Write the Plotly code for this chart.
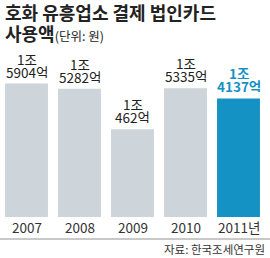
import plotly.graph_objects as go

years = ["2007", "2008", "2009", "2010", "2011년"]
values = [15904, 15282, 10462, 15335, 14137]
label_top = ["1조", "1조", "1조", "1조", "1조"]
label_bottom = ["5904억", "5282억", "462억", "5335억", "4137억"]

GRAY = "#cdd4da"
BLUE = "#1592c4"
colors = [GRAY, GRAY, GRAY, GRAY, BLUE]
FONT = "Noto Sans CJK KR"

x = list(range(len(years)))
fig = go.Figure(go.Bar(x=x, y=values, marker=dict(color=colors, line=dict(width=0)),
                       width=0.81, hoverinfo="skip"))

W, H = 270, 258
T, B = 40, 41
plot_h = H - T - B
def py(p):
    return (H - B - p) / plot_h
def px(p):
    return p / 265

ann = []
for i, (v, a, b) in enumerate(zip(values, label_top, label_bottom)):
    c = BLUE if i == 4 else "#222222"
    ta = f"<b>{a}</b>" if i == 4 else a
    tb = f"<b>{b}</b>" if i == 4 else b
    ann.append(dict(x=i, y=v, xref="x", yref="y", text=tb, showarrow=False, borderpad=0,
                    height=12, yanchor="bottom", yshift=5, font=dict(family=FONT, size=13.5, color=c)))
    ann.append(dict(x=i, y=v, xref="x", yref="y", text=ta, showarrow=False, borderpad=0,
                    height=12, yanchor="bottom", yshift=18, font=dict(family=FONT, size=13.5, color=c)))
    ann.append(dict(x=i, y=py(227), xref="x", yref="paper", text=years[i], showarrow=False,
                    yanchor="middle", font=dict(family=FONT, size=13.5, color="#333333")))

ann.append(dict(x=px(3), y=py(12), xref="paper", yref="paper", xanchor="left", yanchor="middle",
                text="<b>호화 유흥업소 결제 법인카드</b>", showarrow=False,
                font=dict(family=FONT, size=18, color="#222222")))
ann.append(dict(x=px(3), y=py(33), xref="paper", yref="paper", xanchor="left", yanchor="middle",
                text="<b>사용액</b><span style='font-size:12.5px'>(단위: 원)</span>", showarrow=False,
                font=dict(family=FONT, size=18, color="#222222")))
ann.append(dict(x=px(266), y=py(249), xref="paper", yref="paper", xanchor="right", yanchor="middle",
                text="자료: 한국조세연구원", showarrow=False, borderpad=0,
                font=dict(family=FONT, size=11.5, color="#333333")))

fig.update_layout(
    width=W, height=H,
    margin=dict(l=0, r=5, t=T, b=B),
    paper_bgcolor="white", plot_bgcolor="white",
    showlegend=False,
    xaxis=dict(range=[-0.5, 4.5], showticklabels=False, showgrid=False, zeroline=False, fixedrange=True),
    yaxis=dict(range=[0, 21100], showticklabels=False, showgrid=False, zeroline=False, fixedrange=True),
    annotations=ann,
    shapes=[dict(type="line", xref="paper", yref="paper", x0=0, x1=px(270), y0=py(239), y1=py(239),
                 line=dict(color="#c8c8c8", width=2))],
)
fig.write_html("out.html")
